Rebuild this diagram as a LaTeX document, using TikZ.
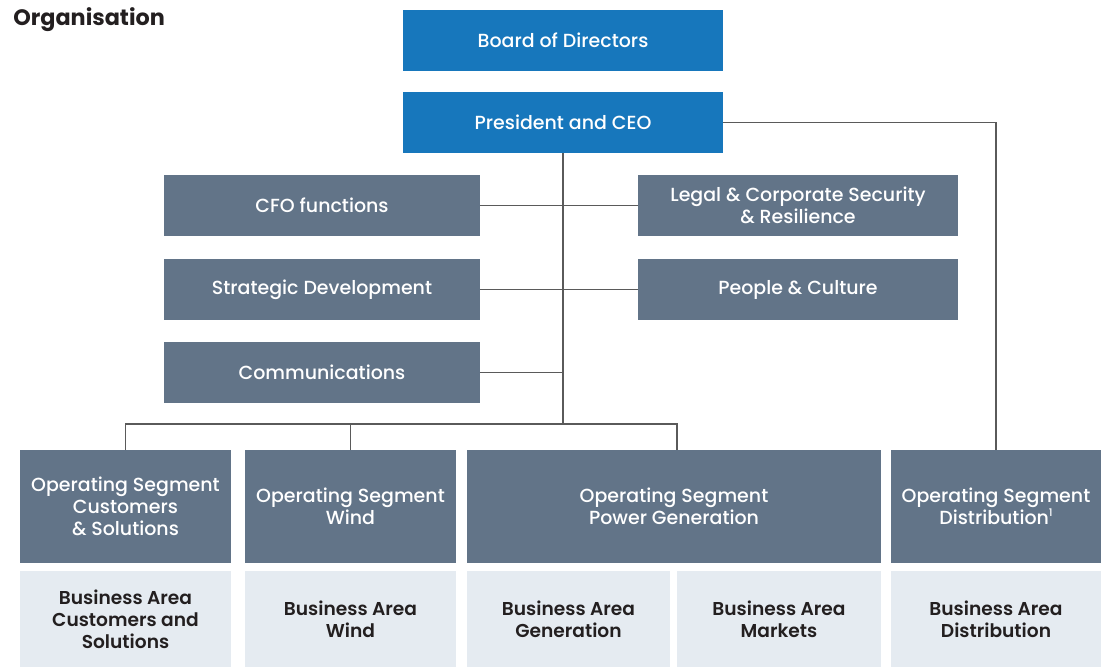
\documentclass[tikz,border=0pt]{standalone}
\usepackage{fontspec}
\setmainfont{Poppins}
\newfontfamily\medfont{Poppins Medium}
\newfontfamily\semifont{Poppins SemiBold}
\usetikzlibrary{calc}

\definecolor{topblue}{HTML}{1777BC}
\definecolor{slate}{HTML}{627488}
\definecolor{pale}{HTML}{E5EBF1}
\definecolor{ink}{HTML}{231F20}
\definecolor{wire}{HTML}{5A5A5A}

\begin{document}
\begin{tikzpicture}[
    % one unit is one pixel of the layout
    x=0.02cm, y=-0.02cm,
    % common box look
    box/.style={rectangle, inner sep=0pt, outer sep=0pt, align=center,
      font=\medfont\fontsize{10.8}{12.4}\selectfont},
    % blue boxes at the top
    lead/.style={box, fill=topblue, text=white, minimum width=6.4cm, minimum height=1.22cm},
    % staff functions
    staff/.style={box, fill=slate, text=white, minimum height=1.22cm},
    % operating segments
    segment/.style={box, fill=slate, text=white, minimum height=2.26cm},
    % business areas
    area/.style={box, fill=pale, text=ink, font=\semifont\fontsize{10.6}{12.4}\selectfont,
      minimum height=1.92cm},
    % connector lines
    link/.style={draw=wire, line width=0.6pt}
  ]

  % fixed frame of the picture
  \useasboundingbox (0,0) rectangle (1101,667);

  % title
  \node[anchor=west, inner sep=0pt, text=ink, font=\fontsize{12.7}{15}\selectfont\bfseries]
    (title) at (13,20) {Organisation};

  % top of the organisation
  \node[lead] (board) at (563,40) {Board of Directors};
  \node[lead] (ceo) at (563,122.5) {President and CEO};

  % staff functions, left column
  \node[staff, minimum width=6.32cm] (cfo) at (322,205.5) {CFO functions};
  \node[staff, minimum width=6.32cm] (strat) at (322,289.5) {Strategic Development};
  \node[staff, minimum width=6.32cm] (comms) at (322,372.5) {Communications};

  % staff functions, right column
  \node[staff, minimum width=6.4cm] (legal) at (798,205.5) {Legal \& Corporate Security\\\& Resilience};
  \node[staff, minimum width=6.4cm] (people) at (798,289.5) {People \& Culture};

  % operating segments
  \node[segment, minimum width=4.22cm] (segcs) at (125.5,506.5) {Operating Segment\\Customers\\\& Solutions};
  \node[segment, minimum width=4.22cm] (segwind) at (350.5,506.5) {Operating Segment\\Wind};
  \node[segment, minimum width=8.28cm] (segpower) at (674,506.5) {Operating Segment\\Power Generation};
  \node[segment, minimum width=4.2cm] (segdist) at (996,506.5)
    {Operating Segment\\Distribution\raisebox{0.75ex}{\fontsize{6}{6}\selectfont 1}};

  % business areas
  \node[area, minimum width=4.22cm] (bacs) at (125.5,619) {Business Area\\Customers and\\Solutions};
  \node[area, minimum width=4.22cm] (bawind) at (350.5,619) {Business Area\\Wind};
  \node[area, minimum width=4.06cm] (bagen) at (568.5,619) {Business Area\\Generation};
  \node[area, minimum width=4.08cm] (bamkt) at (779,619) {Business Area\\Markets};
  \node[area, minimum width=4.2cm] (badist) at (996,619) {Business Area\\Distribution};

  % branching point above the segments
  \coordinate (hub) at (563,424);

  % lines
  \draw[link] (ceo.south) -- (hub);
  \draw[link] (cfo.east) -- (legal.west);
  \draw[link] (strat.east) -- (people.west);
  \draw[link] (comms.east) -- (comms.east -| hub);
  \draw[link] (segcs.north) |- (hub);
  \draw[link] (segwind.north) -- (segwind.north |- hub);
  \draw[link] (hub) -| ([xshift=0.06cm]segpower.north);
  \draw[link] (ceo.east) -| (segdist.north);

\end{tikzpicture}
\end{document}
